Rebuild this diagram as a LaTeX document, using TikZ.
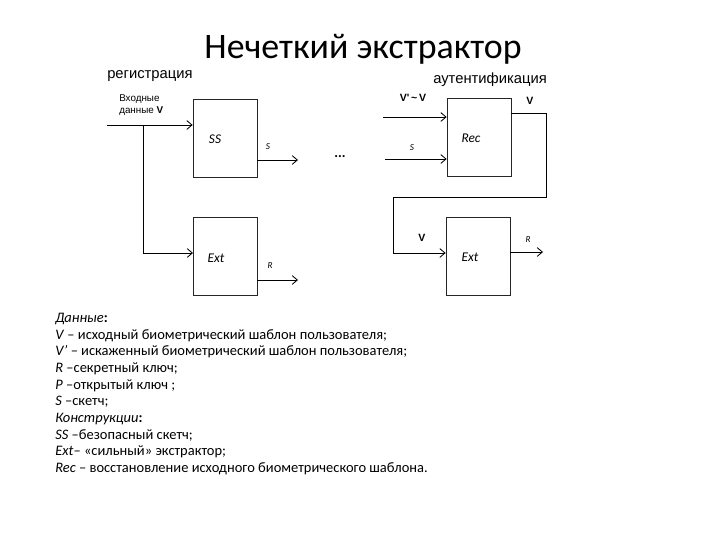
\documentclass[tikz,border=0pt]{standalone}
\usepackage{fontspec}
\setmainfont{Carlito}
\newfontfamily\arialfont{Liberation Sans}
\usetikzlibrary{arrows.meta,positioning}

\begin{document}
\begin{tikzpicture}[
  x=0.025cm, y=-0.025cm,
  every node/.style={inner sep=0pt},
  blk/.style={draw=black!85, line width=0.5pt, minimum width=1.6cm, minimum height=1.95cm},
  bname/.style={font=\itshape\fontsize{9.5}{11}\selectfont},
  lbl/.style={font=\arialfont\fontsize{7}{9}\selectfont},
  vlbl/.style={font=\arialfont\bfseries\fontsize{7.5}{9}\selectfont},
  sml/.style={font=\itshape\fontsize{6.5}{7}\selectfont},
  hdr/.style={font=\arialfont\fontsize{10.5}{12}\selectfont},
  arr/.style={-{Straight Barb[length=1.3mm,width=2.2mm]}, line width=0.6pt},
  lin/.style={line width=0.6pt}
]
\useasboundingbox (0,0) rectangle (720,540);

\node[font=\fontsize{25.5}{28}\selectfont] (title) at (363,49) {Нечеткий экстрактор};
\node[hdr, anchor=west] (reg) at (107,76) {регистрация};
\node[hdr, anchor=west] (aut) at (433,80) {аутентификация};

% registration
\node[blk] (ss) at (225,138) {};
\node[bname] at (215,139) {SS};
\node[blk, below=1.0cm of ss] (ext) {};
\node[bname] at (216,258) {Ext};

\coordinate (vin) at (107,125);
\coordinate (br) at (143,125);
\node[lbl, align=left, anchor=south west] (vlab) at (119,116) {Входные\\данные \textbf{V}};
\draw[arr] (vin) -- (vin -| ss.west);
\draw[lin] (br) -- (143,253);
\draw[arr] (143,253) -- (193,253);

\coordinate (sout) at (298,160);
\coordinate (rout) at (298,280);
\draw[arr] (sout -| ss.east) -- (sout);
\node[sml] (s1) at (268,147) {S};
\draw[arr] (rout -| ext.east) -- (rout);
\node[sml] (r1) at (270,266) {R};

\node[font=\bfseries] (dots) at (340,157) {...};

% authentication
\node[blk] (rec) at (479,137) {};
\node[bname] at (471,138) {Rec};
\node[blk] (ext2) at (478,256) {};
\node[bname] at (470,257) {Ext};

\coordinate (vpin) at (383,117);
\coordinate (spin) at (385,159);
\draw[arr] (vpin) -- (vpin -| rec.west);
\node[vlbl] (vp) at (413,98) {V'\,\textasciitilde\,V};
\draw[arr] (spin) -- (spin -| rec.west);
\node[sml] (s2) at (412,148) {S};

\coordinate (vout) at (546,113);
\coordinate (c1) at (546,197);
\coordinate (c2) at (393,197);
\coordinate (c3) at (393,253);
\draw[lin] (vout -| rec.east) -- (vout) -- (c1) -- (c2) -- (c3);
\draw[arr] (c3) -- (c3 -| ext2.west);
\node[vlbl] (v1) at (530,101) {V};
\node[vlbl] (v2) at (422,238) {V};

\coordinate (r2out) at (543,252);
\draw[arr] (r2out -| ext2.east) -- (r2out);
\node[sml] (r2) at (528,240) {R};

% legend
\node[anchor=north west, align=left, font=\fontsize{10.3}{11.85}\selectfont] (legend) at (55,313) {%
\textit{Данные}\textbf{:}\\
\textit{V} -- исходный биометрический шаблон пользователя;\\
\textit{V'} -- искаженный биометрический шаблон пользователя;\\
\textit{R} --секретный ключ;\\
\textit{P} --открытый ключ ;\\
\textit{S} --скетч;\\
\textit{Конструкции}\textbf{:}\\
\textit{SS} --безопасный скетч;\\
\textit{Ext}-- «сильный» экстрактор;\\
\textit{Rec} -- восстановление исходного биометрического шаблона.};
\end{tikzpicture}
\end{document}
